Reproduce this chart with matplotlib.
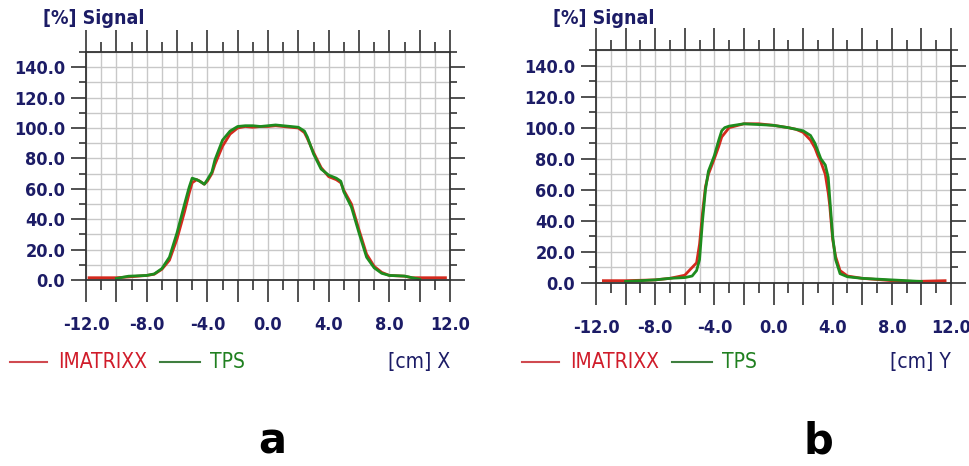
import numpy as np
import matplotlib
matplotlib.use("Agg")
import matplotlib.pyplot as plt
from matplotlib import font_manager
from matplotlib.font_manager import FontProperties
from matplotlib.ticker import MultipleLocator, FuncFormatter

# look for a narrow face; fall back to Roboto
bold_path = None
reg_path = None
for f in font_manager.fontManager.ttflist:
    fn = f.fname.lower()
    if "condensed" in fn or "narrow" in fn:
        w = f.weight if isinstance(f.weight, int) else 400
        if "oblique" in fn or "italic" in fn:
            continue
        if w >= 600 and bold_path is None:
            bold_path = f.fname
        if w < 600 and reg_path is None:
            reg_path = f.fname


def fp(bold, size):
    path = bold_path if bold else reg_path
    if path:
        return FontProperties(fname=path, size=size)
    return FontProperties(family="Roboto", weight="bold" if bold else "normal", size=size)


NAVY = "#1c1c66"
RED = "#d42a1e"
GREEN = "#1e8c1e"

# panel a: X profile
ax_tps_x = [-10.0, -9.2, -8.0, -7.5, -7.0, -6.5, -6.0, -5.5, -5.2, -5.0, -4.7, -4.5, -4.2, -4.0,
            -3.7, -3.5, -3.0, -2.5, -2.0, -1.5, -1.0, -0.5, 0.0, 0.5, 1.0, 1.5, 2.0, 2.4, 2.6,
            3.0, 3.5, 4.0, 4.5, 4.8, 5.0, 5.5, 6.0, 6.5, 7.0, 7.5, 8.0, 9.0, 9.5, 10.0]
ax_tps_y = [1.0, 2.5, 3.0, 4.0, 7.5, 15.0, 31.0, 50.0, 61.0, 67.0, 66.0, 65.0, 63.0, 66.0,
            71.0, 79.0, 92.0, 98.0, 101.0, 101.5, 101.5, 101.0, 101.5, 102.0, 101.5, 101.0, 100.5, 98.0, 94.0,
            83.0, 73.0, 69.0, 67.0, 65.0, 58.0, 48.0, 31.0, 15.0, 8.0, 4.4, 3.0, 2.6, 1.5, 0.5]
ax_imx_x = [-11.8, -10.0, -9.2, -8.0, -7.5, -7.0, -6.5, -6.0, -5.5, -5.2, -5.0, -4.7, -4.5, -4.2, -4.0,
            -3.7, -3.5, -3.0, -2.5, -2.0, -1.5, -1.0, -0.5, 0.0, 0.5, 1.0, 1.5, 2.0, 2.4, 2.6,
            3.0, 3.5, 4.0, 4.5, 4.8, 5.0, 5.5, 6.0, 6.5, 7.0, 7.5, 8.0, 9.0, 9.5, 11.7]
ax_imx_y = [1.5, 1.5, 2.0, 3.0, 3.8, 7.0, 13.0, 27.0, 45.0, 57.0, 64.0, 66.0, 65.0, 63.0, 65.0,
            70.0, 76.0, 88.0, 96.0, 100.0, 101.0, 100.5, 101.0, 101.0, 101.5, 101.0, 100.5, 100.0, 97.0, 93.0,
            84.0, 74.0, 68.0, 66.0, 64.0, 59.0, 50.0, 33.0, 17.0, 9.0, 5.0, 3.0, 2.5, 1.5, 1.5]

# panel b: Y profile
by_tps_x = [-10.0, -8.0, -7.0, -6.0, -5.5, -5.2, -5.0, -4.8, -4.6, -4.4, -4.2, -4.0, -3.7, -3.5,
            -3.3, -3.0, -2.0, -1.0, 0.0, 1.0, 1.5, 2.0, 2.5, 2.8, 3.0, 3.2, 3.5, 3.7, 3.8,
            4.0, 4.2, 4.5, 5.0, 6.0, 8.0, 10.0]
by_tps_y = [1.0, 2.0, 3.0, 3.5, 4.5, 8.0, 15.0, 40.0, 60.0, 72.0, 77.0, 82.0, 92.0, 98.0,
            100.0, 101.0, 102.5, 102.0, 101.5, 100.0, 99.0, 98.0, 95.0, 90.0, 85.0, 80.0, 76.0, 68.0, 55.0,
            30.0, 15.0, 6.0, 4.0, 3.0, 2.0, 1.0]
by_imx_x = [-11.5, -10.0, -8.0, -7.0, -6.0, -5.5, -5.2, -5.0, -4.8, -4.6, -4.4, -4.2, -4.0, -3.7, -3.5,
            -3.0, -2.0, -1.0, 0.0, 1.0, 1.5, 2.0, 2.5, 2.8, 3.0, 3.2, 3.5, 3.7, 3.8,
            4.0, 4.2, 4.5, 5.0, 6.0, 8.0, 9.5, 11.6]
by_imx_y = [1.5, 1.5, 2.0, 3.0, 5.0, 10.0, 13.0, 25.0, 45.0, 62.0, 70.0, 75.0, 80.0, 88.0, 94.0,
            100.0, 102.5, 102.5, 101.5, 100.0, 99.0, 97.0, 92.0, 87.0, 82.0, 78.0, 70.0, 58.0, 50.0,
            28.0, 17.0, 8.0, 4.5, 3.0, 1.5, 1.0, 1.5]

W, H = 969.0, 466.0
fig = plt.figure(figsize=(9.69, 4.66), dpi=100)


def panel(left, right, top, y0, tx, ty, mx, my, axis_name, leg_x, letter, letter_x):
    rect = [left / W, 1 - y0 / H, (right - left) / W, (y0 - top) / H]
    ax = fig.add_axes(rect)
    ax.set_xlim(-12, 12)
    ax.set_ylim(0, 150)
    ax.xaxis.set_major_locator(MultipleLocator(2))
    ax.xaxis.set_minor_locator(MultipleLocator(1))
    ax.yaxis.set_major_locator(MultipleLocator(20))
    ax.yaxis.set_minor_locator(MultipleLocator(10))
    ax.xaxis.set_major_formatter(FuncFormatter(lambda v, p: f"{v:.1f}" if round(v) % 4 == 0 else ""))
    ax.yaxis.set_major_formatter(FuncFormatter(lambda v, p: f"{v:.1f}" if v < 145 else ""))
    ax.grid(True, which="both", color="#c8c8c8", lw=1.0)
    ax.set_axisbelow(True)
    ax.tick_params(which="both", direction="out", color="#333333", width=1.2,
                   top=True, right=True, labelcolor=NAVY)
    ax.tick_params(axis="x", which="major", length=16, pad=10)
    ax.tick_params(axis="x", which="minor", length=7)
    ax.tick_params(axis="y", which="major", length=11, pad=4)
    ax.tick_params(axis="y", which="minor", length=5)
    for lab in ax.get_xticklabels() + ax.get_yticklabels():
        lab.set_fontproperties(fp(True, 13))
    for s in ax.spines.values():
        s.set_color("#333333")
        s.set_linewidth(1.3)
    ax.plot(mx, my, color=RED, lw=2.0, clip_on=False)
    ax.plot(tx, ty, color=GREEN, lw=2.0, clip_on=False)

    fig.text((left - 43) / W, 1 - 19 / H, "[%] Signal", color=NAVY, fontproperties=fp(True, 14),
             va="center", ha="left")
    y_leg = 1 - 362 / H
    fig.text(right / W, y_leg, f"[cm] {axis_name}", color=NAVY, fontproperties=fp(False, 15),
             va="center", ha="right")
    fig.lines.append(plt.Line2D([leg_x / W, (leg_x + 37) / W], [y_leg, y_leg], color="#d04a50",
                                lw=1.5, transform=fig.transFigure))
    fig.text((leg_x + 48) / W, y_leg, "IMATRIXX", color="#d01c2a", fontproperties=fp(False, 15),
             va="center", ha="left")
    fig.lines.append(plt.Line2D([(leg_x + 150) / W, (leg_x + 190) / W], [y_leg, y_leg],
                                color="#3f7f3f", lw=1.5, transform=fig.transFigure))
    fig.text((leg_x + 200) / W, y_leg, "TPS", color="#208020", fontproperties=fp(False, 15),
             va="center", ha="left")
    fig.text(letter_x / W, 1 - 454 / H, letter, color="black", fontsize=30, fontweight="bold",
             ha="center", va="baseline")
    return ax


panel(86, 450, 52, 280, ax_tps_x, ax_tps_y, ax_imx_x, ax_imx_y, "X", 10, "a", 272)
panel(596, 951, 50, 283, by_tps_x, by_tps_y, by_imx_x, by_imx_y, "Y", 522, "b", 818)

fig.savefig("out.png", dpi=100)
